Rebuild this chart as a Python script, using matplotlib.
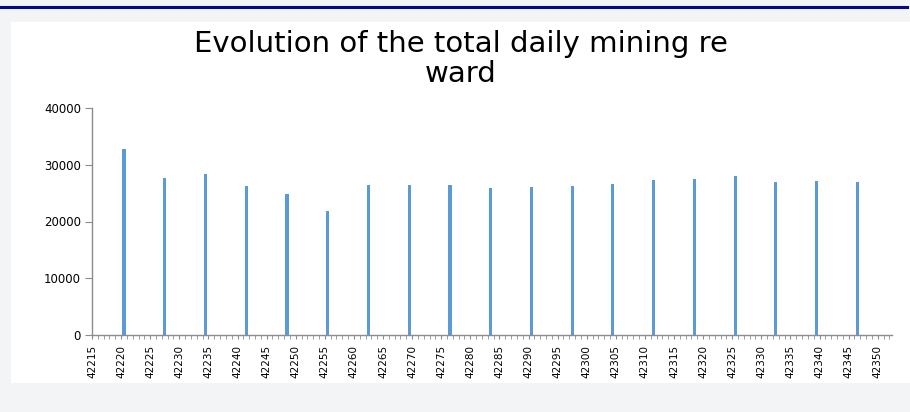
import matplotlib.pyplot as plt
from matplotlib.patches import Rectangle
from matplotlib.lines import Line2D
from matplotlib.ticker import MultipleLocator

# Weekly dates (Excel serial numbers) and total daily mining reward
dates = [42220, 42227, 42234, 42241, 42248, 42255, 42262, 42269, 42276, 42283,
         42290, 42297, 42304, 42311, 42318, 42325, 42332, 42339, 42346]
reward = [32800, 27700, 28300, 26200, 24800, 21850, 26400, 26400, 26400, 25900,
          26100, 26250, 26550, 27300, 27500, 27950, 26950, 27100, 26950]

title = "Evolution of the total daily mining re\nward"
tick_start, tick_end = 42215, 42350


def main():
    W, H = 910, 412
    fig = plt.figure(figsize=(W / 100, H / 100), dpi=100)
    fig.patch.set_facecolor('#f3f4f6')

    # white chart panel and the blue rule above it
    fig.patches.append(Rectangle((11 / W, 1 - 383 / H), 1, (383 - 22) / H,
                                 transform=fig.transFigure, facecolor='white',
                                 edgecolor='none', zorder=-5))
    fig.lines.append(Line2D([0, 907 / W], [1 - 6.5 / H, 1 - 6.5 / H],
                            transform=fig.transFigure, color='#06068a', lw=2.2,
                            zorder=-5))

    ax = fig.add_axes([92 / W, 1 - 335 / H, 800 / W, 227 / H])
    ax.set_facecolor('none')

    # bars sit in the centre of their day slot
    xs = [d + 0.5 for d in dates]
    ax.bar(xs, reward, width=0.55, color='#5b9bd5', edgecolor='none')

    ax.set_xlim(tick_start, tick_start + 800 / 5.82)
    ax.set_ylim(0, 40000)
    ax.yaxis.set_major_locator(MultipleLocator(10000))
    ax.xaxis.set_minor_locator(MultipleLocator(1))
    ax.set_xticks(range(tick_start, tick_end + 1, 5))
    ax.set_xticklabels([str(t) for t in range(tick_start, tick_end + 1, 5)],
                       rotation=90, fontsize=7.5,
                       family=['Liberation Sans Narrow', 'DejaVu Sans'])

    for s in ['top', 'right']:
        ax.spines[s].set_visible(False)
    for s in ['left', 'bottom']:
        ax.spines[s].set_color('#8c8c8c')
        ax.spines[s].set_linewidth(1)

    ax.tick_params(axis='y', length=5, color='#8c8c8c', labelsize=8.5, pad=3)
    ax.tick_params(axis='x', which='both', length=3, color='#8c8c8c', pad=4)

    fig.text(461 / W, 1 - 59 / H, title, ha='center', va='center',
             fontsize=21, linespacing=1.05, family='DejaVu Sans')

    fig.savefig('out.png', dpi=100, facecolor=fig.get_facecolor())
    plt.close('all')


if __name__ == '__main__':
    main()
